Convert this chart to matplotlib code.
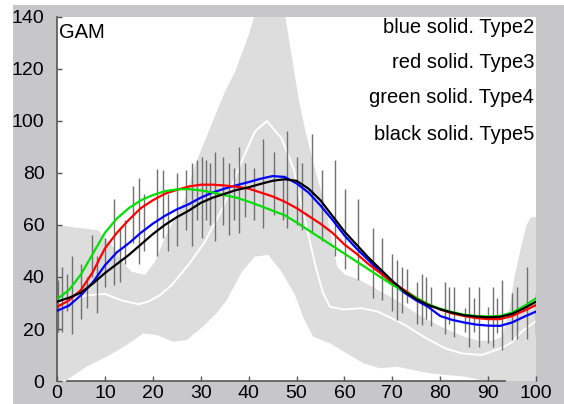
import matplotlib.pyplot as plt
from matplotlib.patches import Rectangle

plt.rcParams['font.family'] = ['Liberation Sans', 'DejaVu Sans']

# smooth curves per type
x = [0, 2.5, 5, 7.5, 10, 12.5, 15, 17.5, 20, 22.5, 25, 27.5, 30, 32.5, 35, 37.5, 40,
     42.5, 45, 47.5, 50, 52.5, 55, 57.5, 60, 62.5, 65, 67.5, 70, 72.5, 75, 77.5, 80,
     82.5, 85, 87.5, 90, 92.5, 95, 97.5, 100]
type2 = [27, 29, 33, 38, 44.5, 49.5, 53, 57, 60.5, 63.5, 66, 68, 70.5, 72.5, 74, 75.3, 76.5,
         77.8, 78.8, 78.5, 76, 72.5, 67.5, 62, 56, 51, 46.5, 42, 37.5, 34, 31, 28.5, 25,
         23.5, 22.5, 21.7, 21.3, 21.2, 22.5, 24.7, 26.7]
type3 = [28.5, 31, 35, 42, 51, 57, 62, 66.5, 69.5, 72, 73.5, 74.8, 75.5, 75.5, 75.2, 74.7, 74,
         72.5, 71, 69, 66.5, 63.5, 60.5, 57, 52.5, 49, 45, 41.5, 38, 35, 32, 29.5, 27.5,
         26, 25, 24.2, 23.8, 23.8, 25, 27, 29.2]
type4 = [31.5, 35, 41, 49, 57, 62.5, 66.5, 69.5, 71.5, 73, 73.7, 73.8, 73.3, 72.5, 71.5, 70.5, 69,
         67.3, 65.5, 63.8, 61, 58, 55, 52, 49, 46, 43, 40, 37, 34.5, 32, 29.5, 27.8,
         26.5, 25.5, 25, 24.8, 25, 26.3, 28.8, 31.8]
type5 = [30.5, 32, 34, 37.5, 41.5, 45, 48.5, 52.5, 56.5, 60, 63, 65.5, 68.5, 70.5, 72, 73.5, 74.5,
         75.8, 77, 77.6, 77, 74, 69.5, 63.5, 57.5, 52.5, 47.5, 43, 38.5, 34.5, 31.5, 29.2, 27.6,
         26.3, 25.3, 24.8, 24.5, 24.7, 25.8, 28, 30.5]

# white reference curve
wx = [0, 3, 6.5, 10, 13.5, 17, 19, 21.5, 24, 27.4, 30.9, 34.4, 38.5, 41.3, 43.8, 46.9, 49.5,
      51, 52.5, 54, 55.5, 57, 60, 63.6, 67, 70, 72.7, 77, 81, 84.5, 88.7, 92.8, 95, 97, 100]
wy = [30, 31.5, 33, 33.5, 31, 29.5, 30.5, 33, 37, 44.6, 53.6, 65.8, 84.3, 95.9, 100, 93.3, 81,
      68, 56, 44, 34, 28.5, 27.5, 28, 26.7, 24, 21.5, 16.5, 12.6, 10.6, 10, 12.7, 15, 19, 23]

# grey band, upper and lower edges
ux = [0, 4, 8.6, 11.4, 13.5, 15.6, 18.4, 20.5, 22.5, 24.5, 26.7, 28.8, 31, 33, 35, 37.2, 40,
      41.3, 44.5, 47.6, 49, 50.5, 52, 53.5, 55, 56.5, 57.5, 58.5, 60, 63, 66, 70, 75, 80,
      85, 88, 91, 93, 94.5, 95.5, 96.7, 98, 99, 100]
uy = [60, 59, 58, 52.3, 46, 42, 40.8, 46, 55, 62, 70, 83, 93, 102, 111, 119, 133,
      141, 165, 141, 125, 108, 95, 84, 74, 63, 53, 44, 41, 39, 36, 32, 26, 21,
      17, 15.5, 15.5, 17, 28, 40, 50, 60, 63, 63]
lx = [0, 2, 6.2, 11, 14.5, 18, 20.8, 24.3, 27.1, 30.5, 33.3, 35.4, 38.6, 41.3, 44.1, 46.9,
      49.7, 51.5, 53.5, 57, 60.5, 64, 67.4, 71, 74.4, 78, 81.4, 85, 88.3, 90, 100]
ly = [0, 0.4, 5.5, 10, 13.8, 18.3, 17.7, 15.1, 15.8, 21, 26, 31, 42, 47.8, 48.5, 42,
      33, 24, 17, 14.5, 10.6, 6.8, 4.9, 5.5, 4.2, 2.9, 2.3, 1.7, 0.4, 0, 0]

# vertical bars (position, low, high)
bar_x = [0.3, 1.0, 2.0, 3.1, 5.0, 6.2, 7.3, 8.3, 10.0, 12.0, 13.2, 14.3, 15.9, 17.1, 18.2,
         20.9, 22.1, 23.1, 25.0, 26.9, 28.1, 29.2, 30.2, 31.1, 32.0, 33.0, 34.6, 35.9, 37.0,
         38.0, 39.2, 41.1, 43.1, 45.2, 47.2, 48.1, 50.2, 51.1, 53.2, 55.3, 58.0, 60.1, 62.9,
         66.0, 67.8, 69.9, 70.9, 72.0, 73.0, 75.1, 76.1, 77.0, 78.1, 80.9, 81.8, 82.9, 85.2,
         86.1, 87.1, 88.2, 89.9, 91.0, 91.9, 93.0, 94.9, 96.0, 98.1, 100.0]
bar_lo = [19, 19, 27, 18, 24, 28, 40, 26, 36, 37, 38, 45, 53, 45, 50,
          48, 55, 50, 52, 58, 52, 62, 55, 62, 60, 54, 60, 56, 62,
          57, 63, 62, 59, 64, 62, 59, 60, 58, 57, 54, 48, 43, 39,
          32, 31, 27, 23.5, 26, 30, 22, 21.5, 24, 21, 18, 22, 17, 19,
          13, 19, 13, 14.5, 13, 18.3, 12, 15.8, 16, 16, 18]
bar_hi = [39, 44, 41, 48, 45, 40, 56, 48, 55, 70, 59, 62, 75, 78, 72,
          81.5, 81, 72, 80, 81, 84, 85, 86, 85, 84, 88, 86, 84, 82,
          90, 84, 82, 93, 88, 78, 96, 86, 84, 95, 81, 85, 74, 70,
          59, 55, 49, 46.5, 44, 43, 38, 41, 40, 36, 38, 36, 36, 28,
          36, 32, 36, 28.6, 36, 31.8, 39, 33.7, 36, 44, 34]

labels = ['blue solid. Type2', 'red solid. Type3', 'green solid. Type4', 'black solid. Type5']

fig = plt.figure(figsize=(5.64, 4.04), dpi=100, facecolor='white')
fig.patches.append(Rectangle((13 / 564, 0), 1, 1 - 5 / 404, transform=fig.transFigure,
                             facecolor='#c7c7ca', edgecolor='none', zorder=-10))
ax = fig.add_axes([57 / 564, 1 - 381 / 404, 479 / 564, 364 / 404])
ax.set_facecolor('white')

ax.fill(ux + lx[::-1], uy + ly[::-1], color='#dcdddc', lw=0, zorder=1)
ax.plot(wx, wy, color='white', lw=1.4, zorder=2)
ax.vlines(bar_x, bar_lo, bar_hi, color='#707070', lw=1, zorder=3)

ax.plot(x, type2, color='#0000ff', lw=1.6, zorder=4)
ax.plot(x, type3, color='#ff0000', lw=1.6, zorder=4)
ax.plot(x, type4, color='#00e000', lw=1.6, zorder=4)
ax.plot(x, type5, color='black', lw=1.6, zorder=5)

ax.text(0.004, 0.943, 'GAM', transform=ax.transAxes, fontsize=14.5, va='baseline', ha='left')
for lab, yy in zip(labels, [0.9552, 0.859, 0.7624, 0.6621]):
    ax.text(0.996, yy, lab, transform=ax.transAxes, fontsize=14.5, va='baseline', ha='right')

ax.set_xlim(0, 100)
ax.set_ylim(0, 140)
ax.set_xticks(range(0, 101, 10))
ax.set_yticks(range(0, 141, 20))
ax.tick_params(axis='both', direction='in', length=3.5, width=1, color='#555555',
               labelsize=14)
ax.tick_params(axis='y', pad=9)
ax.tick_params(axis='x', pad=3)
for s in ['top', 'right']:
    ax.spines[s].set_visible(False)
ax.spines['left'].set_color('#555555')
ax.spines['bottom'].set_color('#555555')
ax.spines['left'].set_linewidth(1.2)
ax.spines['bottom'].set_linewidth(1.2)
ax.spines['bottom'].set_bounds(2, 93.5)

plt.savefig('out.png', dpi=100, facecolor=fig.get_facecolor())
